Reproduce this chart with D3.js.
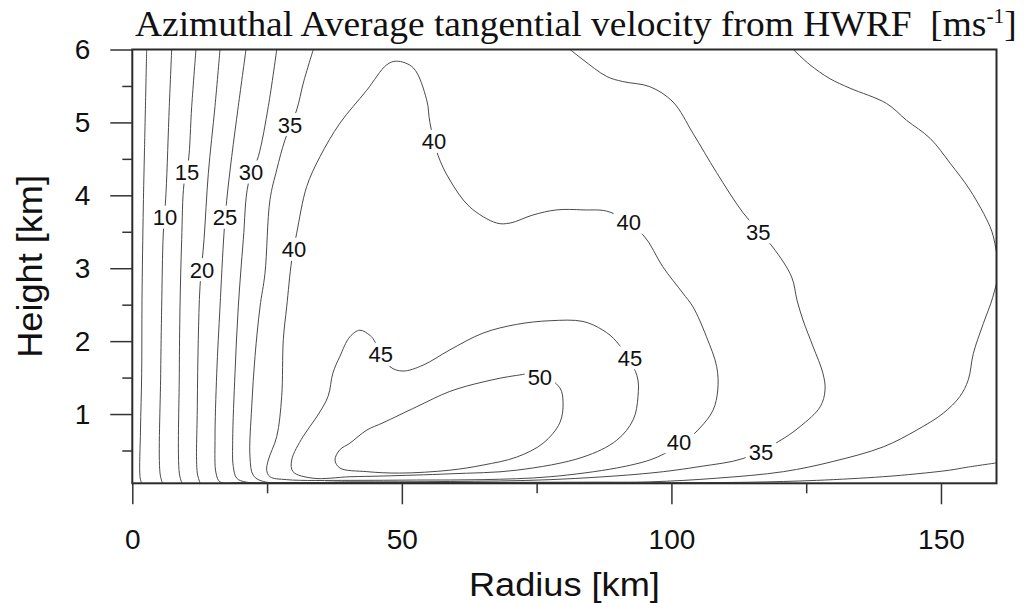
<!DOCTYPE html>
<html><head><meta charset="utf-8">
<script src="https://cdn.jsdelivr.net/npm/d3@7/dist/d3.min.js"></script>
<style>body{margin:0;background:#fff} svg{display:block}</style>
</head><body>
<svg id="c" width="1025" height="603"></svg>
<script>
// ---------- data (radius km, height km) ----------
const titleMain = "Azimuthal Average tangential velocity from HWRF  [ms";
const titleSup = "-1";
const titleEnd = "]";
const xTitle = "Radius [km]";
const yTitle = "Height [km]";
const xTicks = [0, 50, 100, 150];
const xMinor = [25, 75, 125];
const yTicks = [1, 2, 3, 4, 5, 6];
const yMinor = [0.5, 1.5, 2.5, 3.5, 4.5, 5.5];

const c5  = [[2.67,6.0],[2.26,4.62],[2.04,3.84],[1.80,2.56],[1.74,1.56],[1.52,0.78],[1.43,0.14],[1.71,0.05]];
const c10 = [[7.31,6.0],[6.86,5.22],[6.25,4.03],[5.75,3.48],[5.45,2.47],[5.27,1.56],[5.14,0.19],[5.6,0.05]];
const c15 = [[11.81,6.0],[11.02,5.22],[10.39,4.46],[9.59,4.16],[9.16,3.39],[8.85,2.47],[8.72,1.56],[8.72,0.19],[9.2,0.05]];
const c20 = [[16.27,6.0],[15.34,5.22],[14.10,4.30],[13.30,3.39],[12.56,2.75],[12.24,2.02],[12.06,1.10],[12.06,0.19],[12.6,0.05]];
const c25 = [[21.09,6.0],[19.66,5.22],[18.44,4.53],[17.51,3.93],[17.01,3.48],[16.27,2.47],[15.66,1.56],[15.34,0.64],[15.53,0.19],[16.27,0.07],[20,0.058],[50,0.055],[100,0.058],[114.5,0.065],[126.9,0.09],[139.2,0.14],[145.5,0.18],[151.6,0.23],[154.8,0.27],[160.3,0.33]];
const c30 = [[26.79,6.0],[25.23,5.22],[23.37,4.53],[21.52,4.16],[20.59,3.39],[19.66,2.47],[19.05,1.56],[18.62,0.64],[18.73,0.28],[19.37,0.12],[21.22,0.065],[30,0.06],[60,0.062],[85,0.066],[96,0.07],[108.4,0.12],[120.8,0.21],[130.0,0.35],[139.3,0.55],[145.5,0.78],[150.4,1.01],[153.5,1.24],[155.07,1.47],[156.0,1.83],[157.85,2.24],[159.6,2.6],[160.6,2.95],[160.0,3.34],[159.1,3.57],[155.4,4.07],[151.7,4.44],[148.0,4.78],[143.6,5.03],[139.9,5.26],[133.1,5.47],[129.4,5.60],[125.7,5.79],[122.6,6.0]];
const c35 = [[33.57,6.0],[31.72,5.54],[30.49,5.17],[28.32,4.76],[26.79,4.35],[25.54,3.94],[24.61,2.93],[23.69,2.47],[22.76,1.79],[22.15,1.10],[21.83,0.41],[22.44,0.16],[24.30,0.075],[40.4,0.07],[59.0,0.075],[77.5,0.10],[96.0,0.19],[105.3,0.28],[113.3,0.39],[119.8,0.62],[123.9,0.83],[127.6,1.10],[128.5,1.33],[128.1,1.56],[126.3,1.92],[124.4,2.29],[123.3,2.56],[122.3,2.88],[118.8,3.29],[113.3,3.76],[108.4,4.31],[104.0,4.85],[100.3,5.28],[96.0,5.49],[91.0,5.56],[88.0,5.63],[83.6,5.86],[81.2,6.0]];
const c40 = [[49.0,5.84],[52.1,5.75],[54.6,5.31],[55.2,5.0],[56.7,4.55],[58.9,4.21],[62.6,3.84],[67.6,3.62],[70.1,3.62],[74.3,3.73],[78.7,3.80],[83.6,3.80],[88.6,3.77],[94.7,3.46],[98.4,3.02],[102.1,2.66],[104.0,2.47],[106.5,2.06],[108.4,1.65],[108.6,1.33],[107.7,1.05],[105.3,0.81],[102.1,0.60],[98.8,0.46],[96.0,0.37],[89.85,0.26],[77.5,0.14],[65.05,0.10],[52.75,0.095],[40.4,0.09],[28.64,0.10],[25.54,0.14],[24.93,0.23],[25.23,0.37],[26.79,0.69],[27.71,1.24],[28.01,2.02],[28.64,2.47],[29.57,3.11],[30.49,3.48],[32.35,4.12],[34.82,4.53],[38.52,4.99],[43.48,5.44],[47.19,5.79]];
const c45 = [[40.36,2.06],[42.22,2.15],[44.07,2.08],[44.6,2.04],[47.80,1.65],[50.21,1.59],[53.92,1.67],[58.9,1.88],[65.05,2.11],[71.3,2.23],[77.5,2.28],[83.6,2.27],[87.3,2.15],[89.85,1.99],[93.6,1.53],[93.8,1.24],[92.9,0.92],[89.85,0.64],[83.6,0.41],[71.3,0.23],[58.9,0.18],[46.5,0.15],[40.4,0.14],[33.5,0.12],[29.8,0.21],[29.57,0.37],[31.66,0.69],[34.2,0.96],[36.3,1.24],[37.2,1.56],[38.5,1.79]];
const c50 = [[40.36,0.60],[43.5,0.78],[46.5,0.88],[52.75,1.10],[58.9,1.31],[65.05,1.44],[71.3,1.53],[75.5,1.55],[79.3,1.36],[79.9,1.15],[79.3,0.88],[76.2,0.60],[71.3,0.41],[65.05,0.30],[58.9,0.23],[49.6,0.19],[43.5,0.21],[38.5,0.26],[37.6,0.37],[38.5,0.51]];

const openLines = [c5, c10, c15, c20, c25, c30, c35];
const closedLines = [c40, c45, c50];

const labelText = ["10","15","20","25","30","35","40","40","40","40","35","35","45","45","50"];
const labelR    = [6.07,10.15,12.93,17.2,22.0,29.25,30.0,55.96,92.1,101.4,116.1,116.6,46.1,92.3,75.6];
const labelZ    = [3.70,4.32,2.98,3.70,4.32,4.97,3.26,4.74,3.63,0.62,3.50,0.48,1.82,1.77,1.51];

// ---------- layout ----------
const svg = d3.select("#c");
const L = 132.3, R = 996.5, T = 49.5, B = 483.3;
const x = d3.scaleLinear().domain([0, 160.3]).range([L, R]);
const y = d3.scaleLinear().domain([0.05, 6]).range([B, T]);

svg.append("defs").append("clipPath").attr("id","clip")
  .append("rect").attr("x",L).attr("y",T).attr("width",R-L).attr("height",B-T);

const plot = svg.append("g").attr("clip-path","url(#clip)");
const lineOpen = d3.line().x(d=>x(d[0])).y(d=>y(d[1])).curve(d3.curveCatmullRom.alpha(0.5));
const lineClosed = d3.line().x(d=>x(d[0])).y(d=>y(d[1])).curve(d3.curveCatmullRomClosed.alpha(0.5));

plot.selectAll("path.o").data(openLines).join("path").attr("class","o")
  .attr("d", lineOpen).attr("fill","none").attr("stroke","#4a4a4a").attr("stroke-width",1);
plot.selectAll("path.c").data(closedLines).join("path").attr("class","c")
  .attr("d", lineClosed).attr("fill","none").attr("stroke","#4a4a4a").attr("stroke-width",1);

// contour labels
const lab = svg.append("g");
labelText.forEach((t,i)=>{
  const g = lab.append("g").attr("transform",`translate(${x(labelR[i])},${y(labelZ[i])})`);
  const r = g.append("rect").attr("fill","#fff");
  const tx = g.append("text").text(t).attr("text-anchor","middle").attr("dy","0.36em")
    .attr("font-family","'Liberation Sans', Arial, sans-serif").attr("font-size",22).attr("fill","#111");
  const w = tx.node().getComputedTextLength();
  r.attr("x",-w/2-3).attr("y",-11.5).attr("width",w+6).attr("height",23);
});

// frame
svg.append("rect").attr("x",L).attr("y",T).attr("width",R-L).attr("height",B-T)
  .attr("fill","none").attr("stroke","#2a2a2a").attr("stroke-width",2);

// axes
const fontSans = "'Liberation Sans', Arial, sans-serif";
const xAx = svg.append("g").attr("transform",`translate(0,${B})`)
  .call(d3.axisBottom(x).tickValues(xTicks).tickSize(21).tickSizeOuter(0).tickPadding(25).tickFormat(d3.format("d")));
const xAxm = svg.append("g").attr("transform",`translate(0,${B})`)
  .call(d3.axisBottom(x).tickValues(xMinor).tickSize(10).tickSizeOuter(0).tickFormat(""));
const yAx = svg.append("g").attr("transform",`translate(${L},0)`)
  .call(d3.axisLeft(y).tickValues(yTicks).tickSize(22).tickSizeOuter(0).tickPadding(20).tickFormat(d3.format("d")));
const yAxm = svg.append("g").attr("transform",`translate(${L},0)`)
  .call(d3.axisLeft(y).tickValues(yMinor).tickSize(10).tickSizeOuter(0).tickFormat(""));
[xAx,xAxm,yAx,yAxm].forEach(a=>{
  a.select(".domain").remove();
  a.selectAll(".tick line").attr("stroke","#333").attr("stroke-width",1.5);
  a.selectAll(".tick text").attr("font-family",fontSans).attr("font-size",28).attr("fill","#111");
});

// titles
function fit(textSel, target){
  const w = textSel.node().getBBox().width;
  return target / w;
}
const tg = svg.append("g").attr("transform","translate(135,36)");
const tt = tg.append("text").attr("font-family","'Liberation Serif','Times New Roman',serif")
  .attr("font-size",35).attr("fill","#111").attr("xml:space","preserve").style("white-space","pre");
tt.append("tspan").text(titleMain);
tt.append("tspan").text(titleSup).attr("font-size",20).attr("dy",-13);
tt.append("tspan").text(titleEnd).attr("dy",13);
tt.attr("transform",`scale(${fit(tt,882)},1)`);

const xg = svg.append("g").attr("transform",`translate(${(L+R)/2},596)`);
const xt = xg.append("text").text(xTitle).attr("text-anchor","middle")
  .attr("font-family",fontSans).attr("font-size",33).attr("fill","#111");
xt.attr("transform",`scale(${fit(xt,191)},1)`);

const yg = svg.append("g").attr("transform",`translate(42,${(T+B)/2}) rotate(-90)`);
const yt = yg.append("text").text(yTitle).attr("text-anchor","middle")
  .attr("font-family",fontSans).attr("font-size",35).attr("fill","#111");
yt.attr("transform",`scale(${fit(yt,183)},1)`);
</script>
</body></html>
